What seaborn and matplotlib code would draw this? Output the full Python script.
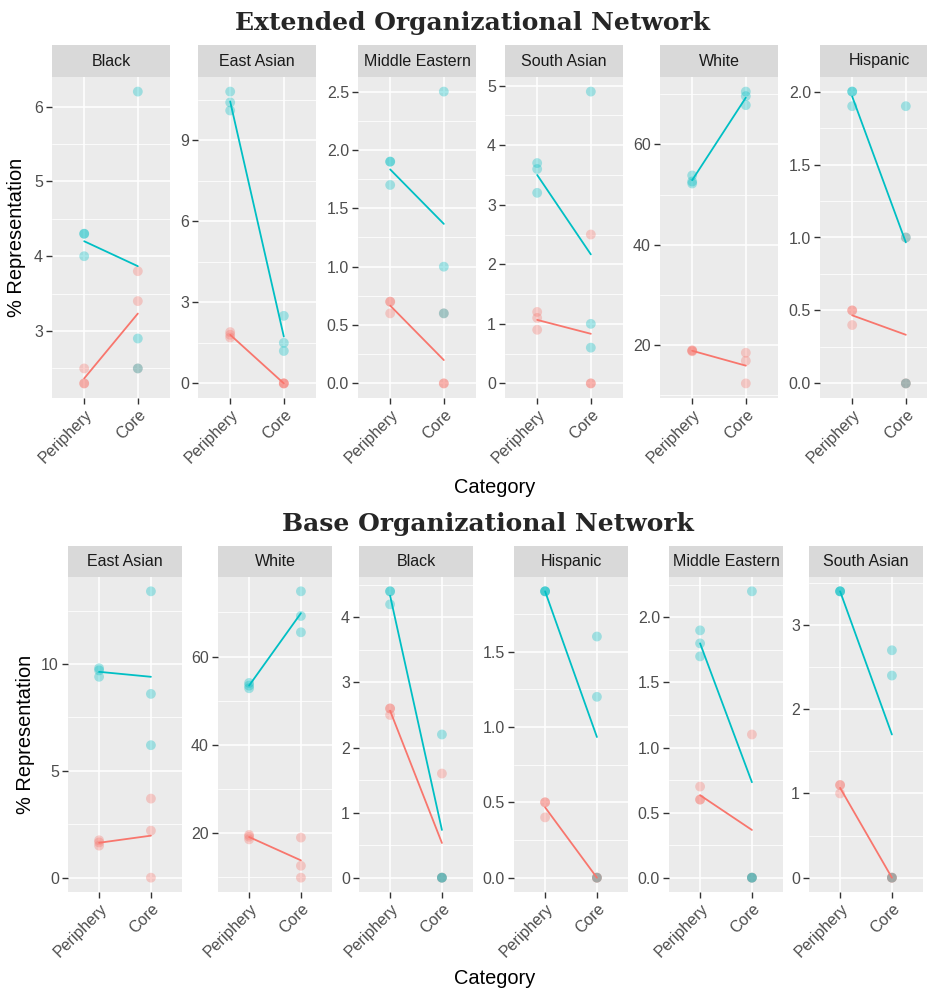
import numpy as np
import pandas as pd
import matplotlib
matplotlib.use("Agg")
import matplotlib.pyplot as plt
import seaborn as sns

# values, three points per group and category
ext_races = ["Black", "East Asian", "Middle Eastern", "South Asian", "White", "Hispanic"]
ext_teal_periphery = [[4.3, 4.3, 4.0], [10.8, 10.4, 10.1], [1.9, 1.9, 1.7],
                      [3.7, 3.6, 3.2], [53.8, 52.6, 52.2], [2.0, 2.0, 1.9]]
ext_teal_core = [[6.2, 2.9, 2.5], [2.5, 1.5, 1.2], [2.5, 1.0, 0.6],
                 [4.9, 1.0, 0.6], [70.5, 69.6, 67.8], [1.9, 1.0, 0.0]]
ext_salmon_periphery = [[2.5, 2.3, 2.3], [1.9, 1.8, 1.7], [0.7, 0.7, 0.6],
                        [1.2, 1.1, 0.9], [19.0, 18.9, 18.8], [0.5, 0.5, 0.4]]
ext_salmon_core = [[3.8, 3.4, 2.5], [0.0, 0.0, 0.0], [0.6, 0.0, 0.0],
                   [2.5, 0.0, 0.0], [18.5, 16.9, 12.4], [1.0, 0.0, 0.0]]
ext_ticks = [[3, 4, 5, 6], [0, 3, 6, 9], [0, 0.5, 1.0, 1.5, 2.0, 2.5],
             [0, 1, 2, 3, 4, 5], [20, 40, 60], [0, 0.5, 1.0, 1.5, 2.0]]

base_races = ["East Asian", "White", "Black", "Hispanic", "Middle Eastern", "South Asian"]
base_teal_periphery = [[9.8, 9.7, 9.4], [54.0, 53.4, 52.8], [4.4, 4.4, 4.2],
                       [1.9, 1.9, 1.9], [1.9, 1.8, 1.7], [3.4, 3.4, 3.4]]
base_teal_core = [[13.4, 8.6, 6.2], [74.8, 69.2, 65.5], [2.2, 0.0, 0.0],
                  [1.6, 1.2, 0.0], [2.2, 0.0, 0.0], [2.7, 2.4, 0.0]]
base_salmon_periphery = [[1.75, 1.65, 1.5], [19.5, 19.1, 18.5], [2.6, 2.6, 2.5],
                         [0.5, 0.5, 0.4], [0.7, 0.6, 0.6], [1.1, 1.1, 1.0]]
base_salmon_core = [[3.7, 2.2, 0.0], [18.9, 12.5, 9.8], [1.6, 0.0, 0.0],
                    [0.0, 0.0, 0.0], [1.1, 0.0, 0.0], [0.0, 0.0, 0.0]]
base_ticks = [[0, 5, 10], [20, 40, 60], [0, 1, 2, 3, 4], [0, 0.5, 1.0, 1.5],
              [0, 0.5, 1.0, 1.5, 2.0], [0, 1, 2, 3]]

SALMON = "#F8766D"
TEAL = "#00BFC4"
palette = {"Group 1": SALMON, "Group 2": TEAL}


def build_frame(races, sp, sc, tp, tc):
    rows = []
    for i, race in enumerate(races):
        parts = [("Periphery", sp[i], "Group 1"), ("Core", sc[i], "Group 1"),
                 ("Periphery", tp[i], "Group 2"), ("Core", tc[i], "Group 2")]
        for cat, vals, grp in parts:
            for v in vals:
                rows.append({"Race": race, "Category": cat, "Group": grp, "Value": v})
    return pd.DataFrame(rows)


ext_df = build_frame(ext_races, ext_salmon_periphery, ext_salmon_core,
                     ext_teal_periphery, ext_teal_core)
base_df = build_frame(base_races, base_salmon_periphery, base_salmon_core,
                      base_teal_periphery, base_teal_core)

sns.set_theme(style="darkgrid", rc={"axes.facecolor": "#EBEBEB",
                                    "grid.color": "white"})
plt.rcParams["font.family"] = ["Liberation Sans", "DejaVu Sans"]

W, H = 928, 989
fig = plt.figure(figsize=(W / 100, H / 100), dpi=100)
fig.patch.set_facecolor("white")


def rect(left, top, width, height):
    return [left / W, 1 - (top + height) / H, width / W, height / H]


def draw_panel(ax, sub, ticks):
    sns.scatterplot(data=sub, x="Category", y="Value", hue="Group", palette=palette,
                    alpha=0.33, s=50, linewidth=0, legend=False, ax=ax, zorder=3)
    sns.lineplot(data=sub, x="Category", y="Value", hue="Group", palette=palette,
                 estimator="mean", errorbar=None, linewidth=1.3, legend=False,
                 ax=ax, zorder=4)
    step = ticks[1] - ticks[0]
    fmt = "{:.1f}" if step % 1 else "{:.0f}"
    ax.set_yticks(ticks)
    ax.set_yticklabels([fmt.format(t) for t in ticks])
    ax.set_yticks(np.arange(ticks[0] - step / 2, ticks[-1] + step, step), minor=True)
    lo, hi = sub["Value"].min(), sub["Value"].max()
    pad = 0.05 * (hi - lo)
    ax.set_ylim(lo - pad, hi + pad)
    ax.set_xlim(-0.6, 1.6)
    ax.set_axisbelow(True)
    ax.grid(which="major", color="white", linewidth=1.1)
    ax.grid(which="minor", axis="y", color="white", linewidth=0.55)
    ax.grid(which="minor", axis="x", visible=False)
    ax.set_xlabel("")
    ax.set_ylabel("")
    for s in ax.spines.values():
        s.set_visible(False)
    ax.tick_params(which="major", length=4, width=1.0, color="#333333",
                   labelsize=11.5, labelcolor="#4D4D4D", pad=2.5,
                   bottom=True, left=True)
    ax.tick_params(which="minor", length=0)
    plt.setp(ax.get_xticklabels(), rotation=45, ha="right", rotation_mode="anchor")


def draw_strip(left, top, width, height, label):
    sax = fig.add_axes(rect(left, top, width, height))
    sax.set_facecolor("#D9D9D9")
    sax.grid(False)
    sax.set_xticks([])
    sax.set_yticks([])
    for s in sax.spines.values():
        s.set_visible(False)
    sax.text(0.5, 0.5, label, ha="center", va="center", fontsize=11.5,
             color="#1A1A1A", transform=sax.transAxes)


rows = [
    dict(df=ext_df, races=ext_races, ticks=ext_ticks, lefts=[52, 198, 358, 505, 660, 820],
         width=118, strip_top=45, strip_h=32, panel_h=321,
         title="Extended Organizational Network", title_x=473, title_y=30,
         ylab_x=17, xlab_y=487),
    dict(df=base_df, races=base_races, ticks=base_ticks, lefts=[68, 218, 359, 514, 669, 809],
         width=114, strip_top=546, strip_h=31, panel_h=315,
         title="Base Organizational Network", title_x=488, title_y=531,
         ylab_x=26, xlab_y=978),
]

for r in rows:
    panel_top = r["strip_top"] + r["strip_h"]
    for race, ticks, left in zip(r["races"], r["ticks"], r["lefts"]):
        ax = fig.add_axes(rect(left, panel_top, r["width"], r["panel_h"]))
        draw_panel(ax, r["df"][r["df"]["Race"] == race], ticks)
        draw_strip(left, r["strip_top"], r["width"], r["strip_h"], race)
    fig.text(r["title_x"] / W, 1 - r["title_y"] / H, r["title"], ha="center",
             va="baseline", fontsize=18, fontweight="bold", family="DejaVu Serif")
    fig.text(r["ylab_x"] / W, 1 - (panel_top + r["panel_h"] / 2) / H, "% Representation",
             rotation=90, ha="center", va="center", fontsize=14.4, color="black")
    fig.text(495 / W, 1 - r["xlab_y"] / H, "Category", ha="center", va="center",
             fontsize=14.4, color="black")

fig.savefig("out.png", dpi=100)
